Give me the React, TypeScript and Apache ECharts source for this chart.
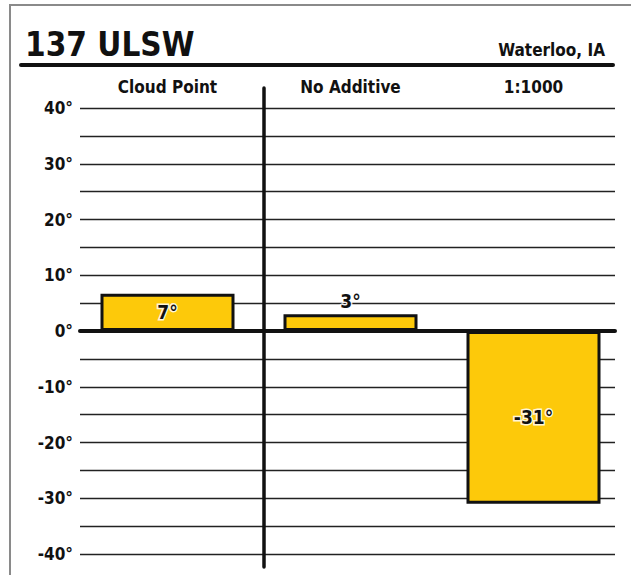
import React, { useEffect, useRef } from "react";
import * as echarts from "echarts";

const categories = ["Cloud Point", "No Additive", "1:1000"];
const values = [6.7, 3, -31];
const valueLabels = ["7°", "3°", "-31°"];
const labelPositions = ["inside", "top", "inside"];

const FONT = "'Liberation Sans Narrow', 'DejaVu Sans Condensed', 'Arial Narrow', sans-serif";

export default function App() {
  const ref = useRef<HTMLDivElement>(null);
  useEffect(() => {
    if (!ref.current) return;
    const chart = echarts.init(ref.current, null, { renderer: "svg" });
    chart.setOption({
      animation: false,
      backgroundColor: "#fff",
      title: [
        {
          text: "137 ULSW",
          left: 20,
          top: 23,
          textStyle: { fontFamily: FONT, fontWeight: "bold", fontSize: 33, color: "#111" },
        },
        {
          text: "Waterloo, IA",
          right: 21,
          top: 36,
          textStyle: { fontFamily: FONT, fontWeight: "bold", fontSize: 17, color: "#111" },
        },
      ],
      graphic: [
        {
          type: "rect",
          shape: { x: 10, y: 5, width: 640, height: 600 },
          style: { fill: "none", stroke: "#8a8a8a", lineWidth: 2 },
          silent: true,
        },
        {
          type: "line",
          shape: { x1: 21, y1: 65, x2: 613, y2: 65 },
          style: { stroke: "#111", lineWidth: 4, lineCap: "round" },
        },
        {
          type: "line",
          shape: { x1: 264, y1: 88, x2: 264, y2: 567 },
          style: { stroke: "#111", lineWidth: 3.5, lineCap: "round" },
          z: 10,
        },
      ],
      grid: [
        { left: 80, right: 16, top: 108, bottom: 21 },
        { left: 76, right: 6, top: 108, bottom: 21 },
      ],
      xAxis: [
        {
          gridIndex: 0,
          type: "value",
          min: 0,
          max: 1,
          axisLine: { show: true, onZero: true, lineStyle: { color: "#111", width: 4 } },
          axisTick: { show: false },
          axisLabel: { show: false },
          splitLine: { show: false },
        },
        {
          gridIndex: 1,
          type: "category",
          data: categories,
          position: "top",
          axisLine: { show: false },
          axisTick: { show: false },
          axisLabel: {
            margin: 13,
            fontFamily: FONT,
            fontWeight: "bold",
            fontSize: 17,
            color: "#111",
          },
        },
      ],
      yAxis: [
        {
          gridIndex: 0,
          type: "value",
          min: -40,
          max: 40,
          interval: 5,
          axisLine: { show: false },
          axisTick: { show: false },
          axisLabel: {
            margin: 7,
            fontFamily: FONT,
            fontWeight: "bold",
            fontSize: 17,
            color: "#111",
            formatter: (v: number) => (v % 10 === 0 ? `${v}°` : ""),
          },
          splitLine: { lineStyle: { color: "#222", width: 1.3 } },
        },
        {
          gridIndex: 1,
          type: "value",
          min: -40,
          max: 40,
          interval: 5,
          show: false,
          splitLine: { show: false },
        },
      ],
      series: [
        {
          type: "bar",
          xAxisIndex: 1,
          yAxisIndex: 1,
          barWidth: 134,
          z: 5,
          data: values.map((v, i) => ({
            value: v,
            label: {
              show: true,
              position: labelPositions[i],
              distance: 4,
              formatter: valueLabels[i],
            },
          })),
          itemStyle: { color: "#FDC90A", borderColor: "#111", borderWidth: 3 },
          label: {
            fontFamily: FONT,
            fontWeight: "bold",
            fontSize: 19,
            color: "#111",
            textBorderColor: "rgba(255,255,255,0.85)",
            textBorderWidth: 3,
          },
        },
      ],
    });
    return () => chart.dispose();
  }, []);
  return <div ref={ref} style={{ width: 631, height: 575, position: "absolute", left: 0, top: 0 }} />;
}
